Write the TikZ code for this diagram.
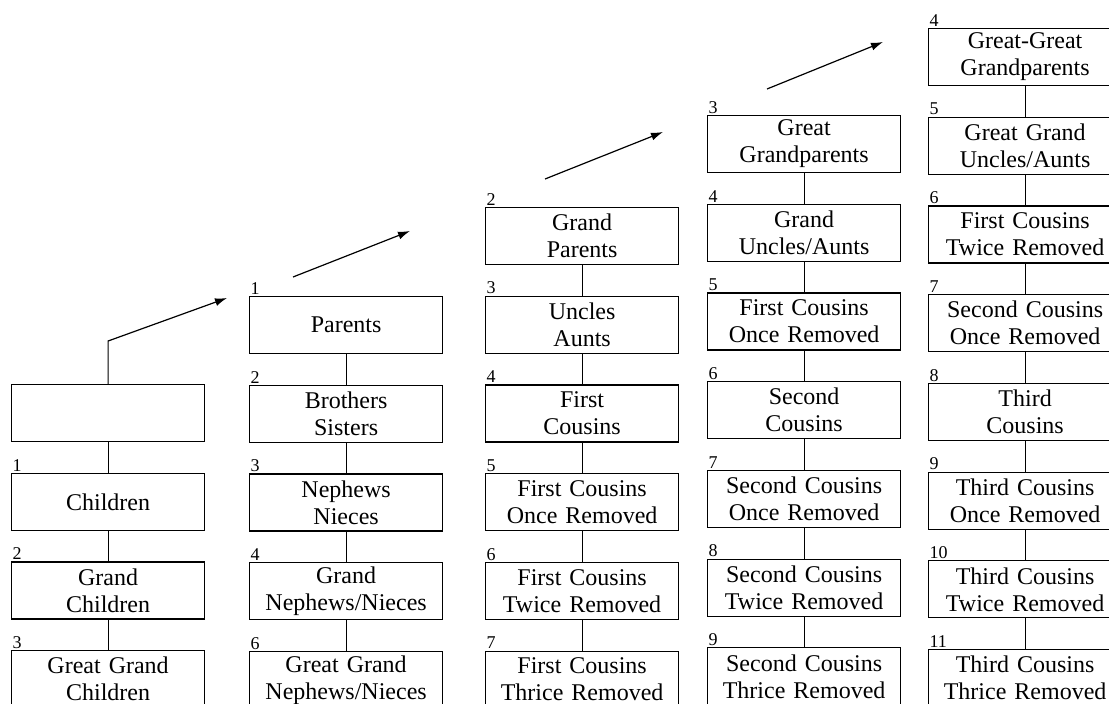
\documentclass[tikz,border=0pt]{standalone}
\usepackage{fontspec}
\setmainfont{Liberation Serif}
\usetikzlibrary{positioning,arrows.meta}

\begin{document}
\begin{tikzpicture}[x=1pt,y=-1pt,node distance=30.5pt,line width=1.2pt,
                    >={Latex[length=12pt,width=8pt]}]
\tikzset{rel/.style = {draw,rectangle,minimum width=193pt,minimum height=57pt,
                       text width=190pt,align=center,inner sep=0pt,
                       font=\fontsize{24}{27}\selectfont},
         gen/.style = {label={[anchor=south west,inner sep=1pt,
                       font=\fontsize{18}{18}\selectfont]north west:#1}}}
\useasboundingbox (0,0) rectangle (1109,704);
\clip (0,0) rectangle (1109,704);

% own generation
\node[rel,anchor=north west] (c0) at (11,384) {};
\node[rel,gen=1,below=of c0] (c1) {Children};
\node[rel,gen=2,below=of c1] (c2) {Grand\\Children};
\node[rel,gen=3,below=of c2] (c3) {Great Grand\\Children};

% parents
\node[rel,gen=1,anchor=north west] (p1) at (249,296) {Parents};
\node[rel,gen=2,below=of p1] (p2) {Brothers\\Sisters};
\node[rel,gen=3,below=of p2] (p3) {Nephews\\Nieces};
\node[rel,gen=4,below=of p3] (p4) {Grand\\Nephews/Nieces};
\node[rel,gen=6,below=of p4] (p6) {Great Grand\\Nephews/Nieces};

% grandparents
\node[rel,gen=2,anchor=north west] (g2) at (485,207) {Grand\\Parents};
\node[rel,gen=3,below=of g2] (g3) {Uncles\\Aunts};
\node[rel,gen=4,below=of g3] (g4) {First\\Cousins};
\node[rel,gen=5,below=of g4] (g5) {First Cousins\\Once Removed};
\node[rel,gen=6,below=of g5] (g6) {First Cousins\\Twice Removed};
\node[rel,gen=7,below=of g6] (g7) {First Cousins\\Thrice Removed};

% great grandparents
\node[rel,gen=3,anchor=north west] (gg3) at (707,115) {Great\\Grandparents};
\node[rel,gen=4,below=of gg3] (gg4) {Grand\\Uncles/Aunts};
\node[rel,gen=5,below=of gg4] (gg5) {First Cousins\\Once Removed};
\node[rel,gen=6,below=of gg5] (gg6) {Second\\Cousins};
\node[rel,gen=7,below=of gg6] (gg7) {Second Cousins\\Once Removed};
\node[rel,gen=8,below=of gg7] (gg8) {Second Cousins\\Twice Removed};
\node[rel,gen=9,below=of gg8] (gg9) {Second Cousins\\Thrice Removed};

% great-great grandparents
\node[rel,gen=4,anchor=north west] (ggg4) at (928,28) {Great-Great\\Grandparents};
\node[rel,gen=5,below=of ggg4] (ggg5) {Great Grand\\Uncles/Aunts};
\node[rel,gen=6,below=of ggg5] (ggg6) {First Cousins\\Twice Removed};
\node[rel,gen=7,below=of ggg6] (ggg7) {Second Cousins\\Once Removed};
\node[rel,gen=8,below=of ggg7] (ggg8) {Third\\Cousins};
\node[rel,gen=9,below=of ggg8] (ggg9) {Third Cousins\\Once Removed};
\node[rel,gen=10,below=of ggg9] (ggg10) {Third Cousins\\Twice Removed};
\node[rel,gen=11,below=of ggg10] (ggg11) {Third Cousins\\Thrice Removed};

\draw (c0) -- (c1) -- (c2) -- (c3);
\draw (p1) -- (p2) -- (p3) -- (p4) -- (p6);
\draw (g2) -- (g3) -- (g4) -- (g5) -- (g6) -- (g7);
\draw (gg3) -- (gg4) -- (gg5) -- (gg6) -- (gg7) -- (gg8) -- (gg9);
\draw (ggg4) -- (ggg5) -- (ggg6) -- (ggg7) -- (ggg8) -- (ggg9) -- (ggg10) -- (ggg11);

% one generation up
\coordinate (up1) at (227,298);
\coordinate (s2) at (293,277);  \coordinate (up2) at (410,231);
\coordinate (s3) at (545,179);  \coordinate (up3) at (663,132);
\coordinate (s4) at (767,89);   \coordinate (up4) at (883,42);
\draw[->] (c0.north) -- ++(0,-43) -- (up1);
\draw[->] (s2) -- (up2);
\draw[->] (s3) -- (up3);
\draw[->] (s4) -- (up4);
\end{tikzpicture}
\end{document}
